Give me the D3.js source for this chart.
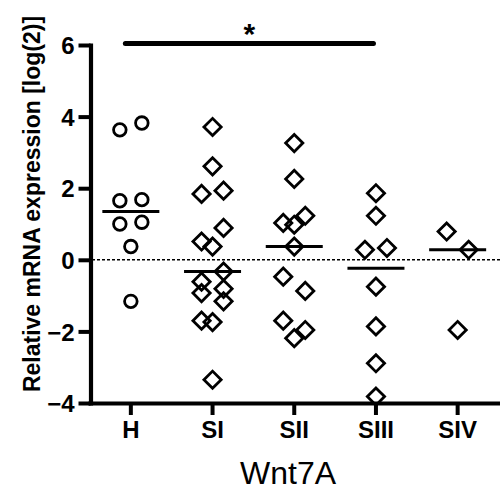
<!DOCTYPE html>
<html lang="en">
<head>
    <meta charset="UTF-8">
    <title>Wnt7A scatter</title>
    <script src="https://d3js.org/d3.v7.min.js"></script>
    <style type="text/css">
        body { margin: 0; background: #fff; }
        text { font-family: "Liberation Sans", Arial, sans-serif; }
    </style>
</head>
<body>
<script type="text/javascript">

// chart size
var w = 500;
var h = 492;

// categories and values (log2 relative expression)
var groups = ["H", "SI", "SII", "SIII", "SIV"];
var valH    = [3.63, 3.82, 1.65, 1.68, 1.00, 1.05, 0.37, -1.16];
var valSI   = [3.71, 2.61, 1.84, 1.93, 0.89, 0.51, 0.37, -0.33, -0.61, -0.81, -0.93, -1.16, -1.70, -1.74, -3.35];
var valSII  = [3.26, 2.26, 1.03, 1.23, 0.98, 0.37, -0.47, -0.87, -1.70, -1.96, -2.19];
var valSIII = [1.86, 1.23, 0.28, 0.33, -0.75, -1.86, -2.89, -3.82];
var valSIV  = [0.79, 0.28, -1.96];
// jitter column of each point (-1 left, 0 centre, 1 right)
var laneH    = [-1, 1, -1, 1, -1, 1, 0, 0];
var laneSI   = [0, 0, -1, 1, 1, -1, 0, 1, -1, 1, -1, 1, -1, 0, 0];
var laneSII  = [0, 0, -1, 1, 0, 0, -1, 1, -1, 1, 0];
var laneSIII = [0, 0, -1, 1, 0, 0, 0, 0];
var laneSIV  = [-1, 1, 0];
var yTicks = [-4, -2, 0, 2, 4, 6];
var yTitle = "Relative mRNA expression [log(2)]";
var xTitle = "Wnt7A";
var sigFrom = "H", sigTo = "SIII", sigLabel = "*";

var values = [valH, valSI, valSII, valSIII, valSIV];
var lanes = [laneH, laneSI, laneSII, laneSIII, laneSIV];

var points = [];
groups.forEach(function(g, i) {
    values[i].forEach(function(v, j) {
        points.push({group: g, value: v, lane: lanes[i][j], circle: i == 0});
    });
});

var xScale = d3.scaleBand().domain(groups).range([90, 498.5]);
var yScale = d3.scaleLinear().domain([-4, 6]).range([403, 45]);
var laneStep = 11;

function cx(d) { return xScale(d.group) + xScale.bandwidth() / 2 + d.lane * laneStep; }

var svg = d3.select("body").append("svg")
    .attr("width", w)
    .attr("height", h);

// dotted zero line
svg.append("line")
    .attr("x1", 92).attr("x2", w)
    .attr("y1", yScale(0)).attr("y2", yScale(0))
    .attr("stroke", "#000")
    .attr("stroke-width", 1.5)
    .attr("stroke-dasharray", "3,2");

// axes
var yAxis = svg.append("g")
    .attr("transform", "translate(90.5,0)")
    .call(d3.axisLeft(yScale).tickValues(yTicks).tickSize(12).tickSizeOuter(0).tickPadding(4));
var xAxis = svg.append("g")
    .attr("transform", "translate(0," + yScale(-4) + ")")
    .call(d3.axisBottom(xScale).tickSize(12).tickSizeOuter(0).tickPadding(6));

[yAxis, xAxis].forEach(function(a) {
    a.select(".domain").attr("stroke-width", 4.2).attr("stroke-linecap", "square");
    a.selectAll(".tick line").attr("stroke-width", 4);
    a.selectAll(".tick text")
        .attr("font-family", "Liberation Sans, Arial, sans-serif")
        .attr("font-weight", "bold")
        .attr("font-size", "24px")
        .attr("fill", "#000");
});
yAxis.selectAll(".tick text").attr("dy", "0.36em");

// axis titles
svg.append("text")
    .attr("transform", "translate(40," + 204 + ") rotate(-90)")
    .attr("text-anchor", "middle")
    .attr("font-weight", "bold")
    .attr("font-size", "23px")
    .text(yTitle);

svg.append("text")
    .attr("x", 288)
    .attr("y", 484)
    .attr("text-anchor", "middle")
    .attr("font-size", "32px")
    .text(xTitle);

// median lines
svg.selectAll("line.median")
    .data(groups)
    .enter()
    .append("line")
    .attr("class", "median")
    .attr("x1", function(g) { return xScale(g) + xScale.bandwidth() / 2 - 28.5; })
    .attr("x2", function(g) { return xScale(g) + xScale.bandwidth() / 2 + 28.5; })
    .attr("y1", function(g, i) { return yScale(d3.median(values[i])); })
    .attr("y2", function(g, i) { return yScale(d3.median(values[i])); })
    .attr("stroke", "#000")
    .attr("stroke-width", 3);

// points
var circleSym = d3.symbol().type(d3.symbolCircle).size(Math.PI * 6.3 * 6.3);
var diamondSym = d3.symbol().type(d3.symbolSquare).size(148);
svg.selectAll("path.pt")
    .data(points)
    .enter()
    .append("path")
    .attr("class", "pt")
    .attr("d", function(d) { return d.circle ? circleSym() : diamondSym(); })
    .attr("transform", function(d) {
        return "translate(" + cx(d) + "," + yScale(d.value) + ")" + (d.circle ? "" : " rotate(45)");
    })
    .attr("fill", "#fff")
    .attr("fill-opacity", 0)
    .attr("stroke", "#000")
    .attr("stroke-width", 2.8);

// significance bar
var sx1 = xScale(sigFrom) + xScale.bandwidth() / 2 - 8;
var sx2 = xScale(sigTo) + xScale.bandwidth() / 2;
svg.append("line")
    .attr("x1", sx1 + 2.5).attr("x2", sx2 - 2.5)
    .attr("y1", yScale(6) - 1.5).attr("y2", yScale(6) - 1.5)
    .attr("stroke", "#000")
    .attr("stroke-width", 5)
    .attr("stroke-linecap", "round");
svg.append("text")
    .attr("x", (sx1 + sx2) / 2)
    .attr("y", 44)
    .attr("text-anchor", "middle")
    .attr("font-weight", "bold")
    .attr("font-size", "30px")
    .text(sigLabel);

</script>
</body>
</html>
